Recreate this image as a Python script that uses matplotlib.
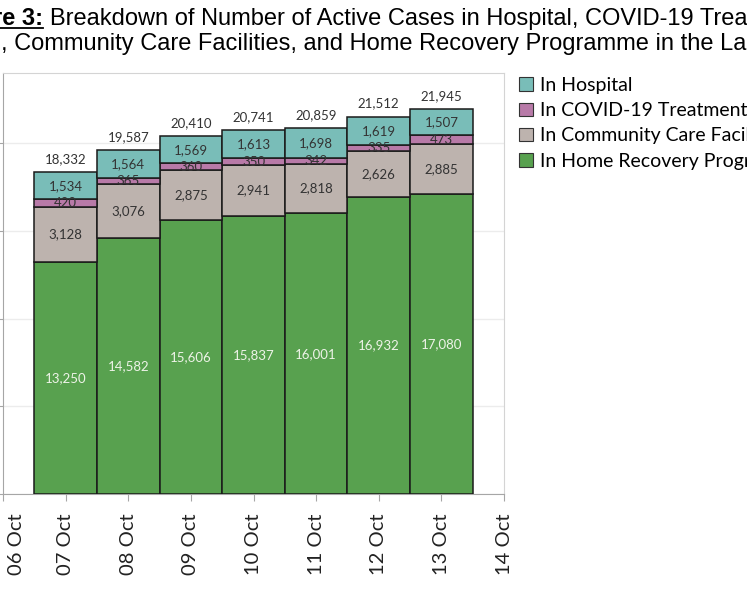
import matplotlib.pyplot as plt
import matplotlib.dates as mdates
import matplotlib.transforms as mtransforms
import numpy as np
from datetime import datetime
from matplotlib.lines import Line2D
from matplotlib.patches import Patch

# data
dates = ['2021-10-07', '2021-10-08', '2021-10-09', '2021-10-10',
         '2021-10-11', '2021-10-12', '2021-10-13']
home = [13250, 14582, 15606, 15837, 16001, 16932, 17080]
community = [3128, 3076, 2875, 2941, 2818, 2626, 2885]
treatment = [420, 365, 360, 350, 342, 335, 473]
hospital = [1534, 1564, 1569, 1613, 1698, 1619, 1507]
totals = [18332, 19587, 20410, 20741, 20859, 21512, 21945]

series_names = ['In Home Recovery Programme', 'In Community Care Facilities',
                'In COVID-19 Treatment Facilities', 'In Hospital']
colors = ['#58a14f', '#bdb3ae', '#b87aa8', '#79bdb8']

W, H = 747, 598
fig = plt.figure(figsize=(W / 100, H / 100), dpi=100)
fig.patch.set_facecolor('white')

# plot area in pixels: left 3, right 504, top 73, bottom 494
ax = fig.add_axes([3 / W, (H - 494) / H, (504 - 3) / W, (494 - 73) / H])

x = [datetime.strptime(d, '%Y-%m-%d') for d in dates]
xn = mdates.date2num(x)
layers = [home, community, treatment, hospital]
bottom = np.zeros(len(xn))
for vals, col, name in zip(layers, colors, series_names):
    ax.bar(xn, vals, width=1.0, bottom=bottom, color=col, edgecolor='#1a1a1a',
           linewidth=1.1, label=name, zorder=3)
    for xi, b, v in zip(xn, bottom, vals):
        tc = '#eef3e8' if col == colors[0] else '#333333'
        ax.text(xi, b + v / 2, f'{v:,}', ha='center', va='center',
                fontsize=9.5, color=tc, family='Lato', zorder=4)
    bottom += np.array(vals)

for xi, t in zip(xn, totals):
    ax.text(xi, t + 750, f'{t:,}', ha='center', va='center', fontsize=9.5,
            color='#333333', family='Lato', zorder=4)

start = mdates.date2num(datetime(2021, 10, 6))
ax.set_xlim(start, start + 8)
ax.set_ylim(0, 24000)
ax.xaxis.set_major_locator(mdates.DayLocator())
ax.xaxis.set_major_formatter(mdates.DateFormatter('%d %b'))
ax.set_yticks([0, 5000, 10000, 15000, 20000])
ax.set_yticklabels([])
plt.setp(ax.get_xticklabels(), rotation=90, fontsize=14.5, family='Lato',
         color='#222222')
ax.tick_params(axis='x', length=5, color='#a6a6a6', pad=9)
ax.tick_params(axis='y', length=4, color='#a6a6a6')
ax.grid(axis='y', color='#ececec', linewidth=1, zorder=0)
for s in ax.spines.values():
    s.set_color('#d4d4d4')
ax.spines['left'].set_color('#a6a6a6')
ax.spines['bottom'].set_color('#a6a6a6')

# first date label sits a little inside the left edge, as in the reference
fig.canvas.draw()
first = ax.get_xticklabels()[0]
first.set_transform(first.get_transform() +
                    mtransforms.ScaledTranslation(14 / 100, 0,
                                                  fig.dpi_scale_trans))

# legend, top item first
handles = [Patch(facecolor=c, edgecolor='#333333', linewidth=0.8)
           for c in colors[::-1]]
fig.legend(handles, series_names[::-1], loc='upper left',
           bbox_to_anchor=(519 / W, 1 - 77 / H), frameon=False,
           prop={'family': 'Lato', 'size': 14}, handlelength=0.7,
           handleheight=0.7, handletextpad=0.4, labelspacing=0.42,
           borderpad=0, borderaxespad=0)

# title, cropped on both sides like the reference
y1 = 1 - 25 / H
y2 = 1 - 50 / H
fs = 17
fig.text(43 / W, y1, 'Figure 3:', ha='right', va='baseline', fontsize=fs,
         family='Liberation Sans', weight='bold')
fig.add_artist(Line2D([0, 43 / W], [1 - 28 / H, 1 - 28 / H], color='black',
                      linewidth=1.3, transform=fig.transFigure))
fig.text(50 / W, y1, 'Breakdown of Number of Active Cases in Hospital, '
         'COVID-19 Treatment Facilities', ha='left', va='baseline',
         fontsize=fs, family='Liberation Sans')
fig.text(1 / W, y2, 'Facilities', ha='right', va='baseline', fontsize=fs,
         family='Liberation Sans')
fig.text(1 / W, y2, ', Community Care Facilities, and Home Recovery Programme '
         'in the Last 7 Days', ha='left', va='baseline', fontsize=fs,
         family='Liberation Sans')

fig.savefig('out.png', dpi=100, facecolor='white')
